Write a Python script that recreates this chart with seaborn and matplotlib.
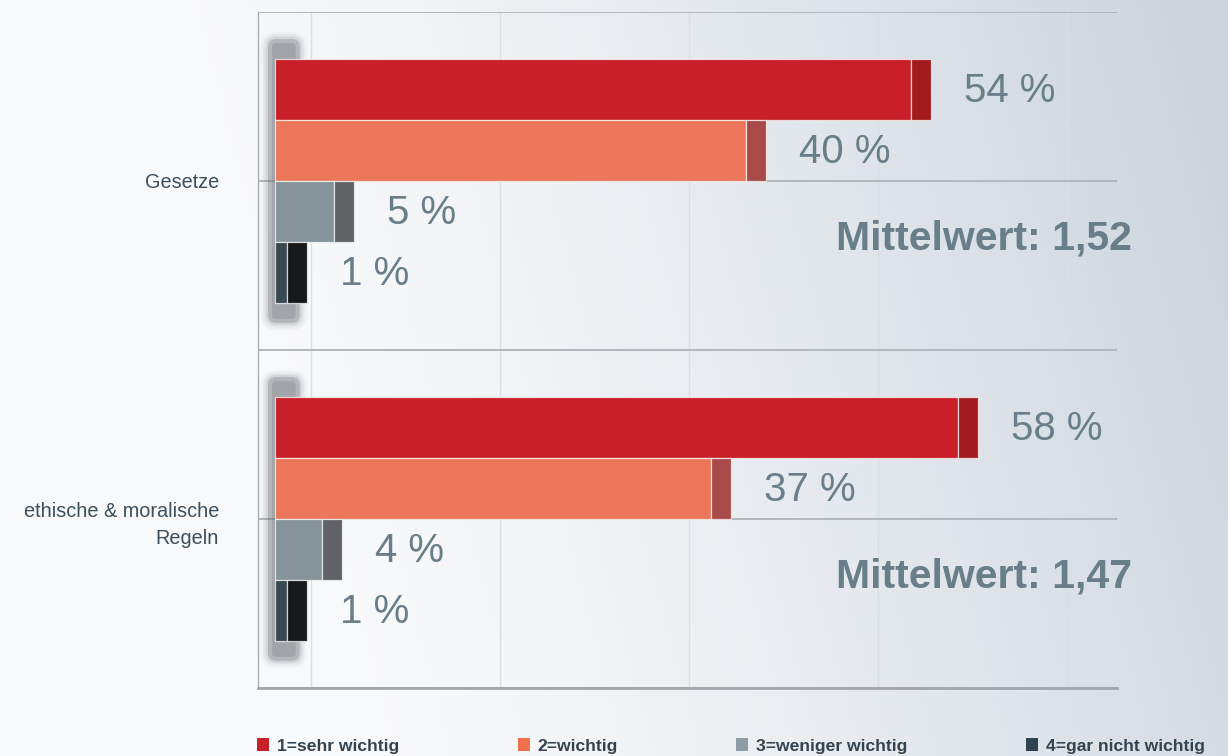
import numpy as np
import pandas as pd
import matplotlib
matplotlib.use("Agg")
import matplotlib.pyplot as plt
from matplotlib.patches import FancyBboxPatch, Patch
import seaborn as sns

# --- data -------------------------------------------------------------
kategorien = ["Gesetze", "ethische & moralische\nRegeln"]
stufen = ["1=sehr wichtig", "2=wichtig", "3=weniger wichtig", "4=gar nicht wichtig"]
werte_gesetze = [54, 40, 5, 1]
werte_ethik = [58, 37, 4, 1]
mittelwerte = [1.52, 1.47]

# --- styling ----------------------------------------------------------
farben = ["#c81f28", "#ec7659", "#85939b", "#3a4852"]
kappen = ["#a21c1f", "#a84a4a", "#606266", "#17181a"]
legende_farben = ["#c81f28", "#f07050", "#8e9ca6", "#2f4350"]
wert_farbe = "#687e89"
text_farbe = "#3b4f5c"
kappe_breite = 1.7      # width of the darker end piece, in % units
label_abstand = 2.8     # gap between bar end and its value label

df = pd.DataFrame({
    "Kategorie": np.repeat(kategorien, len(stufen)),
    "Stufe": stufen * len(kategorien),
    "Wert": werte_gesetze + werte_ethik,
})

sns.set_theme(style="white")
plt.rcParams["font.family"] = ["Liberation Sans", "DejaVu Sans"]

fig = plt.figure(figsize=(12.28, 7.56), dpi=100)

# soft diagonal background gradient
bg = fig.add_axes([0, 0, 1, 1], zorder=0)
h, w = 200, 320
xx, yy = np.meshgrid(np.linspace(0, 1, w), np.linspace(0, 1, h))
t = np.clip((xx - 0.3) / 0.7 * 0.85 + (1 - yy) * 0.2, 0, 1) ** 1.3
c0 = np.array([0.975, 0.978, 0.982])
c1 = np.array([0.80, 0.835, 0.87])
grad = c0[None, None, :] * (1 - t[..., None]) + c1[None, None, :] * t[..., None]
bg.imshow(grad, aspect="auto", extent=[0, 1, 0, 1], origin="upper")
bg.axis("off")

ax_l, ax_r, ax_t, ax_b = 258, 1117, 12, 688
ax = fig.add_axes([ax_l / 1228, 1 - ax_b / 756, (ax_r - ax_l) / 1228, (ax_b - ax_t) / 756], zorder=1)
ax.set_facecolor("none")

sns.barplot(data=df, x="Wert", y="Kategorie", hue="Stufe", orient="h",
            hue_order=stufen, order=kategorien, palette=farben, saturation=1,
            width=0.72, dodge=True, edgecolor=(1, 1, 1, 0.7), linewidth=0.9,
            legend=False, ax=ax, zorder=3, errorbar=None)

x0, x1 = -1.45, 71.5
ax.set_xlim(x0, x1)
ax.set_ylim(1.5, -0.5)

# blurred grey "tube" behind the start of each bar group
x_pro_px = (x1 - x0) / (ax_r - ax_l)
y_pro_px = 2.0 / (ax_b - ax_t)
asp = y_pro_px / x_pro_px
for yi in range(len(kategorien)):
    for pad, alpha in [(0.6, 0.05), (0.4, 0.08), (0.2, 0.14), (0.0, 0.3), (-0.35, 0.25)]:
        box = FancyBboxPatch((-0.6 - pad, yi - 0.42 - pad * asp),
                             2.7 + 2 * pad, 0.84 + 2 * pad * asp,
                             boxstyle="round,pad=0,rounding_size=%.3f" % max(0.7 + pad, 0.3),
                             mutation_aspect=asp, facecolor="#6c7178",
                             edgecolor="none", alpha=alpha, zorder=2)
        ax.add_patch(box)

# darker end piece and value label for each bar
for container, kappe in zip(ax.containers, kappen):
    for bar in container:
        wert = bar.get_width()
        yc = bar.get_y() + bar.get_height() / 2
        ax.barh(yc, kappe_breite, left=wert, height=bar.get_height(),
                color=kappe, edgecolor=(1, 1, 1, 0.7), linewidth=0.9, zorder=3)
        ax.text(wert + kappe_breite + label_abstand, yc + 0.005, f"{wert:.0f} %",
                ha="left", va="center", fontsize=29, color=wert_farbe, zorder=4)

# mean values
for yi, mw in enumerate(mittelwerte):
    ax.text(72.8, yi + 0.17, "Mittelwert: " + f"{mw:.2f}".replace(".", ","),
            ha="right", va="center", fontsize=29.5, fontweight="bold",
            color=wert_farbe, zorder=4, clip_on=False)

# grid and axes
ax.set_xticks([3.06, 19.1, 35.15, 51.2, 67.25])
ax.set_xticklabels([])
ax.set_yticks(range(len(kategorien)))
ax.set_yticklabels(kategorien, fontsize=14.3, color=text_farbe, ha="right",
                   linespacing=1.5)
ax.set_yticks([-0.5, 0.5, 1.5], minor=True)
ax.tick_params(axis="y", which="major", length=0, pad=28)
ax.tick_params(axis="y", which="minor", length=3, color="#a9adb1")
ax.tick_params(axis="x", length=0)
ax.set_xlabel("")
ax.set_ylabel("")
ax.grid(axis="x", color="#dcdfe2", linewidth=1.0, zorder=0)
ax.grid(axis="y", which="both", color="#b3b7bb", linewidth=1.4, zorder=0)
ax.set_axisbelow(True)
for side in ["top", "right"]:
    ax.spines[side].set_visible(False)
ax.spines["left"].set_color("#a9adb1")
ax.spines["left"].set_linewidth(1.0)
ax.spines["bottom"].set_color("#a3a7ab")
ax.spines["bottom"].set_linewidth(2.0)

# legend row
handles = [Patch(facecolor=c, edgecolor="none") for c in legende_farben]
fig.legend(handles, stufen, loc="center left",
           bbox_to_anchor=(257 / 1228, 1 - 746 / 756), ncol=4, frameon=False,
           prop={"weight": "bold", "size": 12.6}, labelcolor="#33434f",
           handlelength=0.7, handleheight=0.7, handletextpad=0.45,
           columnspacing=6.75, borderpad=0, borderaxespad=0)

fig.savefig("out.png", dpi=100)
